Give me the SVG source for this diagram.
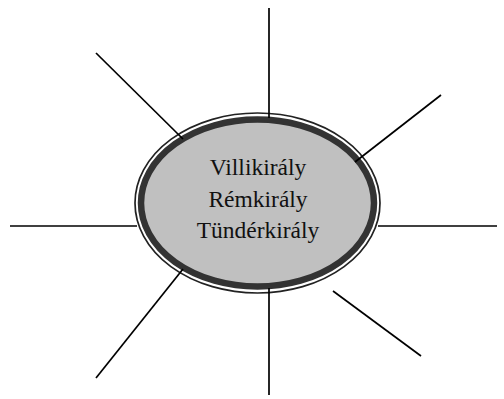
<svg xmlns="http://www.w3.org/2000/svg" width="504" height="399" viewBox="0 0 504 399">
<style>
.c line{stroke:#000;stroke-width:1.7;stroke-linecap:butt}
text{font-family:"Liberation Serif","Times New Roman",serif;font-size:23.5px;fill:#111;text-anchor:middle}
</style>
<rect width="504" height="399" fill="#fff"/>
<g id="center">
<ellipse cx="257.5" cy="203" rx="122.5" ry="90" fill="#fff" stroke="#222" stroke-width="1.7"/>
<ellipse cx="257.5" cy="203" rx="116.5" ry="83.5" fill="#c0c0c0" stroke="#333" stroke-width="6.5"/>
<text x="258" y="175">Villikirály</text>
<text x="258" y="207">Rémkirály</text>
<text x="258" y="238">Tündérkirály</text>
</g>
<g class="c" id="connectors">
<line x1="269" y1="8" x2="269" y2="118"/>
<line x1="441" y1="95" x2="355" y2="162"/>
<line x1="378" y1="226" x2="497" y2="226"/>
<line x1="333" y1="291" x2="421" y2="356"/>
<line x1="269" y1="288" x2="269" y2="395"/>
<line x1="183" y1="269" x2="96" y2="378"/>
<line x1="10" y1="226" x2="137" y2="226"/>
<line x1="96" y1="53" x2="183" y2="139"/>
</g>
</svg>
